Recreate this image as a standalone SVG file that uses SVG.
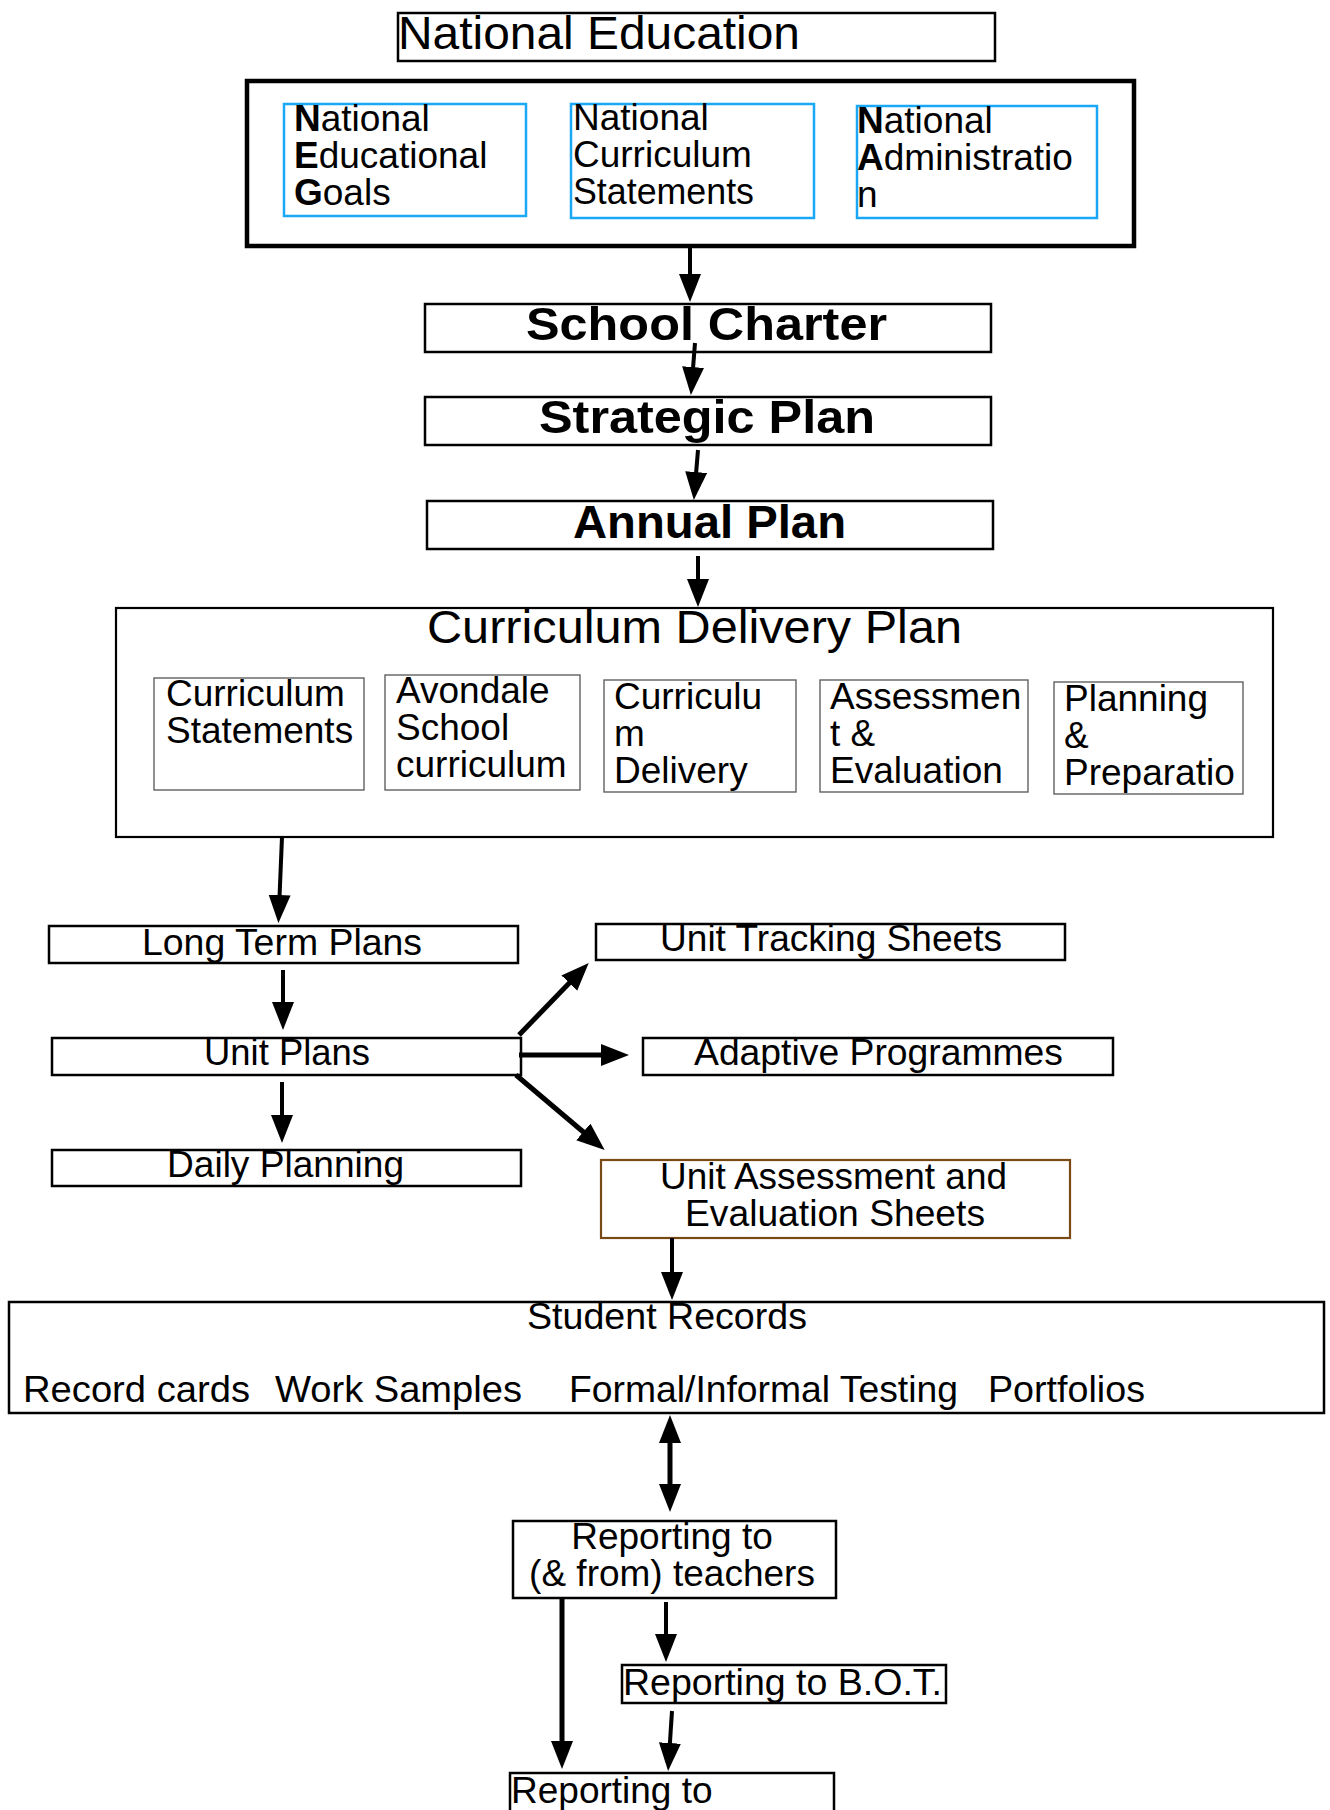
<svg xmlns="http://www.w3.org/2000/svg" width="1330" height="1810" viewBox="0 0 1330 1810">
<style>
text{font-family:"Liberation Sans",Arial,sans-serif;fill:#000}
.box{fill:#fff;stroke:#000;stroke-width:2.5}
.blue{fill:#fff;stroke:#1aa7f5;stroke-width:2.5}
.inner{fill:#fff;stroke:#555;stroke-width:1.3}
.t37{font-size:37px}
.t36{font-size:36px}
.b{font-weight:bold}
.big{font-size:46px}
.arr{stroke:#000;stroke-width:4;fill:none;marker-end:url(#ah)}
.arr5{stroke:#000;stroke-width:5;fill:none;marker-end:url(#ah)}
</style>
<defs>
<marker id="ah" markerUnits="userSpaceOnUse" markerWidth="30" markerHeight="24" refX="14" refY="11" orient="auto-start-reverse">
<path d="M0,0 L28,11 L0,22 z" fill="#000"/>
</marker>
</defs>
<rect width="1330" height="1810" fill="#fff"/>

<g id="national-education">
<rect class="box" x="398" y="13" width="597" height="48"/>
<text class="big" x="398" y="49" textLength="402" lengthAdjust="spacingAndGlyphs">National Education</text>
</g>

<g id="national-group">
<rect x="247" y="81" width="887" height="165" fill="#fff" stroke="#000" stroke-width="4.5"/>
<g id="neg">
<rect class="blue" x="284" y="104" width="242" height="112"/>
<text class="t37" x="294" y="131"><tspan class="b">N</tspan>ational</text>
<text class="t37" x="294" y="168"><tspan class="b">E</tspan>ducational</text>
<text class="t37" x="294" y="205"><tspan class="b">G</tspan>oals</text>
</g>
<g id="ncs">
<rect class="blue" x="571" y="104" width="243" height="114"/>
<text class="t37" x="573" y="130">National</text>
<text class="t37" x="573" y="167">Curriculum</text>
<text class="t37" x="573" y="204" textLength="181" lengthAdjust="spacingAndGlyphs">Statements</text>
</g>
<g id="nag">
<rect class="blue" x="857" y="106" width="240" height="112"/>
<text class="t37" x="857" y="133"><tspan class="b">N</tspan>ational</text>
<text class="t37" x="857" y="170"><tspan class="b">A</tspan>dministratio</text>
<text class="t37" x="857" y="207">n</text>
</g>
</g>

<g id="school-charter">
<rect class="box" x="425" y="304" width="566" height="48"/>
<text class="big b" x="526" y="340" textLength="361" lengthAdjust="spacingAndGlyphs">School  Charter</text>
</g>
<g id="strategic-plan">
<rect class="box" x="425" y="397" width="566" height="48"/>
<text class="big b" x="539" y="433" textLength="336" lengthAdjust="spacingAndGlyphs">Strategic  Plan</text>
</g>
<g id="annual-plan">
<rect class="box" x="427" y="501" width="566" height="48"/>
<text class="big b" x="573" y="538" textLength="273" lengthAdjust="spacingAndGlyphs">Annual Plan</text>
</g>

<g id="curriculum-delivery-plan">
<rect x="116" y="608" width="1157" height="229" fill="#fff" stroke="#000" stroke-width="2.2"/>
<text class="big" x="427" y="643" textLength="535" lengthAdjust="spacingAndGlyphs">Curriculum Delivery Plan</text>
<g id="cdp-statements">
<rect class="inner" x="154" y="678" width="210" height="112"/>
<text class="t37" x="166" y="706">Curriculum</text>
<text class="t37" x="166" y="743">Statements</text>
</g>
<g id="cdp-avondale">
<rect class="inner" x="385" y="675" width="195" height="115"/>
<text class="t37" x="396" y="703">Avondale</text>
<text class="t37" x="396" y="740">School</text>
<text class="t37" x="396" y="777">curriculum</text>
</g>
<g id="cdp-delivery">
<rect class="inner" x="604" y="680" width="192" height="112"/>
<text class="t37" x="614" y="709">Curriculu</text>
<text class="t37" x="614" y="746">m</text>
<text class="t37" x="614" y="783">Delivery</text>
</g>
<g id="cdp-assessment">
<rect class="inner" x="820" y="680" width="208" height="112"/>
<text class="t37" x="830" y="709">Assessmen</text>
<text class="t37" x="830" y="746">t &amp;</text>
<text class="t37" x="830" y="783">Evaluation</text>
</g>
<g id="cdp-planning">
<rect class="inner" x="1054" y="682" width="189" height="112"/>
<text class="t37" x="1064" y="711">Planning</text>
<text class="t37" x="1064" y="748">&amp;</text>
<text class="t37" x="1064" y="785">Preparatio</text>
</g>
</g>

<g id="long-term-plans">
<rect class="box" x="49" y="926" width="469" height="37"/>
<text class="t37" x="142" y="955" textLength="280" lengthAdjust="spacingAndGlyphs">Long Term Plans</text>
</g>
<g id="unit-tracking-sheets">
<rect class="box" x="596" y="924" width="469" height="36"/>
<text class="t37" x="660" y="951" textLength="342" lengthAdjust="spacingAndGlyphs">Unit Tracking Sheets</text>
</g>
<g id="unit-plans">
<rect class="box" x="52" y="1038" width="469" height="37"/>
<text class="t37" x="204" y="1065" textLength="166" lengthAdjust="spacingAndGlyphs">Unit Plans</text>
</g>
<g id="adaptive-programmes">
<rect class="box" x="643" y="1038" width="470" height="37"/>
<text class="t37" x="694" y="1065" textLength="369" lengthAdjust="spacingAndGlyphs">Adaptive Programmes</text>
</g>
<g id="daily-planning">
<rect class="box" x="52" y="1150" width="469" height="36"/>
<text class="t37" x="167" y="1177" textLength="237" lengthAdjust="spacingAndGlyphs">Daily Planning</text>
</g>
<g id="unit-assessment">
<rect x="601" y="1160" width="469" height="78" fill="#fff" stroke="#7a4a14" stroke-width="2.2"/>
<text class="t37" x="660" y="1189" textLength="347" lengthAdjust="spacingAndGlyphs">Unit Assessment and</text>
<text class="t37" x="685" y="1226" textLength="300" lengthAdjust="spacingAndGlyphs">Evaluation Sheets</text>
</g>

<g id="student-records">
<rect class="box" x="9" y="1302" width="1315" height="111"/>
<text class="t37" x="527" y="1329" textLength="280" lengthAdjust="spacingAndGlyphs">Student Records</text>
<text class="t37" y="1402"><tspan x="23" textLength="227" lengthAdjust="spacingAndGlyphs">Record cards</tspan><tspan x="275" textLength="247" lengthAdjust="spacingAndGlyphs">Work Samples</tspan><tspan x="569" textLength="389" lengthAdjust="spacingAndGlyphs">Formal/Informal Testing</tspan><tspan x="988" textLength="157" lengthAdjust="spacingAndGlyphs">Portfolios</tspan></text>
</g>

<g id="reporting-teachers">
<rect class="box" x="513" y="1521" width="323" height="77"/>
<text class="t37" x="672" y="1549" text-anchor="middle">Reporting to</text>
<text class="t37" x="672" y="1586" text-anchor="middle">(&amp; from) teachers</text>
</g>
<g id="reporting-bot">
<rect class="box" x="622" y="1665" width="324" height="38"/>
<text class="t37" x="623" y="1695" textLength="319" lengthAdjust="spacingAndGlyphs">Reporting to B.O.T.</text>
</g>
<g id="reporting-bottom">
<rect class="box" x="510" y="1773" width="324" height="60"/>
<text class="t37" x="511" y="1803">Reporting to</text>
</g>

<g id="connectors">
<line class="arr" x1="690" y1="246" x2="690" y2="288"/>
<line class="arr" x1="695" y1="343" x2="692" y2="381"/>
<line class="arr" x1="698" y1="450" x2="695" y2="486"/>
<line class="arr" x1="698" y1="556" x2="698" y2="593"/>
<line class="arr" x1="282" y1="837" x2="279" y2="909"/>
<line class="arr" x1="283" y1="970" x2="283" y2="1016"/>
<line class="arr" x1="282" y1="1082" x2="282" y2="1129"/>
<line class="arr5" x1="519" y1="1035" x2="579" y2="973"/>
<line class="arr5" x1="519" y1="1055" x2="615" y2="1055"/>
<line class="arr5" x1="516" y1="1075" x2="594" y2="1141"/>
<line class="arr" x1="672" y1="1238" x2="672" y2="1286"/>
<line stroke="#000" stroke-width="5" marker-start="url(#ah)" marker-end="url(#ah)" x1="670" y1="1429" x2="670" y2="1498"/>
<line class="arr" x1="666" y1="1602" x2="666" y2="1648"/>
<line class="arr" x1="672" y1="1711" x2="669" y2="1757"/>
<line class="arr5" x1="562" y1="1598" x2="562" y2="1755"/>
</g>
</svg>
